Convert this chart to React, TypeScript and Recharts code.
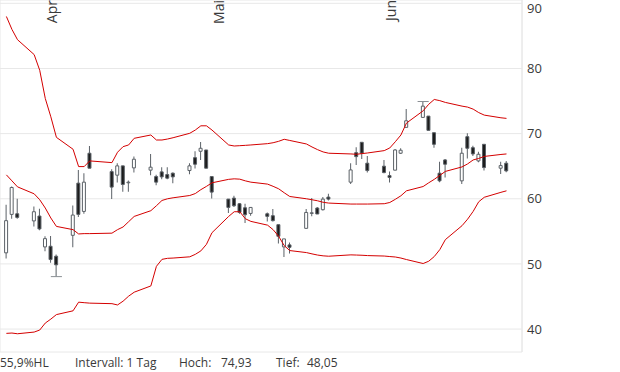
import { ComposedChart, Bar, Line, XAxis, YAxis, CartesianGrid, Cell, ReferenceLine } from "recharts";

// daily candles, 2020 (US session, Good Friday + Memorial Day closed)
const dates = [
  "2020-03-25", "2020-03-26", "2020-03-27", "2020-03-30", "2020-03-31", "2020-04-01", "2020-04-02", "2020-04-03",
  "2020-04-06", "2020-04-07", "2020-04-08", "2020-04-09",
  "2020-04-13", "2020-04-14", "2020-04-15", "2020-04-16", "2020-04-17",
  "2020-04-20", "2020-04-21", "2020-04-22", "2020-04-23", "2020-04-24",
  "2020-04-27", "2020-04-28", "2020-04-29", "2020-04-30", "2020-05-01",
  "2020-05-04", "2020-05-05", "2020-05-06", "2020-05-07", "2020-05-08",
  "2020-05-11", "2020-05-12", "2020-05-13", "2020-05-14", "2020-05-15",
  "2020-05-18", "2020-05-19", "2020-05-20", "2020-05-21", "2020-05-22",
  "2020-05-26", "2020-05-27", "2020-05-28", "2020-05-29",
  "2020-06-01", "2020-06-02", "2020-06-03", "2020-06-04", "2020-06-05",
  "2020-06-08", "2020-06-09", "2020-06-10", "2020-06-11", "2020-06-12",
  "2020-06-15", "2020-06-16", "2020-06-17", "2020-06-18", "2020-06-19",
  "2020-06-22", "2020-06-23",
];

const opens = [
  51.7, 57.6, 57.7, 56.6, 57.35, 52.61, 52.71, 51.18,
  54.39, 62.4, 58.06, 66.99,
  64.17, 63.62, 65.05, 62.45, 64.74,
  64.39, 63.41, 64.13, 63.72, 63.93,
  64.33, 66.31, 67.29, 67.49, 63.41,
  59.95, 60.1, 59.24, 58.62, 57.75,
  57.7, 57.4, 56.02, 52.61, 52.92,
  55.46, 57.75, 58.58, 58.32, 60.26,
  62.55, 67.08, 68.67, 65.46,
  65.0, 63.56, 64.39, 66.99, 70.96,
  72.49, 72.69, 70.14, 63.93, 65.96,
  62.75, 69.53, 67.84, 65.81, 68.36,
  64.69, 65.46,
];

const highs = [
  59.08, 61.88, 60.0, 58.8, 58.47, 54.24, 54.3, 51.44,
  58.98, 64.43, 63.93, 68.1,
  64.54, 65.46, 65.05, 62.8, 66.47,
  66.88, 63.67, 64.85, 64.85, 64.02,
  65.46, 67.3, 68.72, 67.49, 63.41,
  59.95, 60.46, 59.34, 59.24, 58.67,
  57.91, 58.42, 56.02, 53.84, 53.27,
  58.42, 60.1, 58.73, 60.26, 60.76,
  65.46, 67.9, 68.67, 66.57,
  65.96, 64.17, 67.64, 67.75, 73.76,
  74.93, 72.69, 70.14, 65.7, 66.12,
  67.84, 70.05, 68.15, 67.23, 68.36,
  65.7, 65.81,
];

const lows = [
  50.83, 56.94, 56.94, 55.76, 55.15, 51.94, 50.17, 48.05,
  52.55, 57.2, 57.7, 64.69,
  59.95, 62.5, 61.07, 61.07, 64.02,
  63.62, 62.09, 63.01, 63.01, 62.4,
  63.78, 64.64, 65.96, 64.69, 60.05,
  57.81, 58.73, 57.7, 56.28, 57.4,
  56.53, 56.53, 53.12, 51.08, 51.59,
  55.46, 57.3, 57.66, 58.21, 59.74,
  62.25, 65.2, 66.12, 64.02,
  63.93, 62.5, 64.39, 66.88, 70.96,
  72.49, 70.5, 67.84, 62.55, 63.26,
  62.25, 66.2, 66.57, 65.61, 64.33,
  63.82, 64.08,
];

const closes = [
  56.64, 61.73, 57.14, 58.01, 55.37, 53.88, 50.67, 49.86,
  57.5, 57.6, 62.55, 64.69,
  61.79, 65.05, 62.19, 62.55, 66.07,
  64.85, 62.55, 63.36, 63.16, 63.36,
  65.05, 65.3, 67.75, 64.69, 61.02,
  58.67, 58.93, 57.91, 57.55, 58.67,
  57.3, 56.64, 54.24, 53.84, 52.55,
  57.9, 57.85, 57.66, 59.95, 59.95,
  64.43, 66.47, 66.99, 64.33,
  64.02, 63.26, 67.49, 67.45, 71.97,
  74.22, 70.5, 68.36, 62.75, 65.3,
  66.99, 67.75, 66.88, 66.83, 64.79,
  65.09, 64.28,
];

const upperBand = [
  87.98, 86.0, 84.42, 82.13, 79.72, 75.4, 72.58, 69.43,
  67.6, 64.94, 64.94, 65.81,
  65.55, 67.14, 68.0, 68.26, 69.28,
  69.79, 69.02, 69.02, 69.17, 69.37,
  70.05, 70.55, 71.2, 71.2, 70.55,
  68.26, 68.1, 68.15, 68.2, 68.26,
  68.46, 68.6, 68.82, 69.13, 68.95,
  68.41, 67.95, 67.54, 67.19, 66.99,
  66.88, 66.83, 66.93, 67.03,
  67.39, 67.8, 68.76, 69.79, 71.62,
  73.5, 74.5, 75.24, 75.06, 74.79,
  74.22, 74.07, 73.76, 73.23, 72.84,
  72.43, 72.34,
];

const middleBand = [
  63.67, 62.75, 61.83, 60.76, 59.85, 58.58, 57.05, 55.76,
  55.26, 54.6, 54.65, 54.65,
  54.72, 55.26, 55.67, 56.48, 57.29,
  58.17, 58.93, 59.74, 60.0, 60.15,
  60.5, 60.8, 61.4, 61.9, 62.45,
  62.98, 63.06, 63.01, 62.75, 62.55,
  62.25, 61.91, 61.53, 60.92, 60.35,
  60.0, 59.85, 59.69, 59.46, 59.34,
  59.19, 59.19, 59.19, 59.19,
  59.24, 59.43, 59.92, 60.46, 61.22,
  61.88, 62.45, 62.98, 63.59, 64.2,
  64.89, 65.35, 65.96, 66.19, 66.5,
  66.8, 66.88,
];

const lowerBand = [
  39.34, 39.39, 39.28, 39.54, 39.85, 40.92, 41.53, 42.22,
  42.8, 44.13, 44.05, 43.98,
  43.9, 43.7, 44.28, 45.05, 45.66,
  46.62, 49.63, 50.7, 50.86, 50.9,
  51.09, 51.47, 52.0, 53.0, 54.79,
  57.29, 58.01, 58.01, 56.94, 56.53,
  55.95, 55.26, 54.24, 52.81, 52.05,
  51.74, 51.54, 51.36, 51.24, 51.18,
  51.39, 51.36, 51.33, 51.28,
  51.21, 51.13, 51.06, 50.9, 50.67,
  50.06, 50.41, 51.13, 52.2, 53.73,
  55.87, 56.87, 58.06, 59.54, 60.23,
  60.99, 61.22,
];

const monthStarts = ["2020-04-01", "2020-05-01", "2020-06-01"];
const monthLabels = ["Apr", "Mai", "Jun"];
const yTicks = [40, 50, 60, 70, 80, 90];

const DAY = 86400000;
const origin = Date.parse("2020-04-01");
const dayIndex = (d: string) => Math.round((Date.parse(d) - origin) / DAY);

const rows = dates.map((d, i) => ({
  t: dayIndex(d) + 0.5,
  wick: [lows[i], highs[i]],
  body: [Math.min(opens[i], closes[i]), Math.max(opens[i], closes[i])],
  up: closes[i] >= opens[i],
  upper: upperBand[i],
  middle: middleBand[i],
  lower: lowerBand[i],
}));

const monthTicks = monthStarts.map(dayIndex);

const hoch = Math.max(...highs);
const tief = Math.min(...lows);
const hochT = rows[highs.indexOf(hoch)].t;
const tiefT = rows[lows.indexOf(tief)].t;
const fmt = (v: number, n = 2) => v.toFixed(n).replace(".", ",");

const RED = "#d40000";
const CANDLE = "#5b6167";
const GRID = "#e8e8e8";
const TEXT = "#3a3a3a";
const X_DOMAIN: [number, number] = [-7.648, 86.29];

// rotated month name, drawn just right of the month gridline
const MonthLabel = (props: any) => {
  const { viewBox, text } = props;
  const x = viewBox ? viewBox.x : 0;
  return (
    <text
      transform={`translate(${x + 14.5},0) rotate(-90)`}
      textAnchor="end"
      fontSize={14}
      fill={TEXT}
      fontFamily="Open Sans"
    >
      {text}
    </text>
  );
};

export default function App() {
  return (
    <div style={{ position: "relative", width: 620, height: 372, fontFamily: "Open Sans", overflow: "hidden" }}>
      <style>{"body{margin:0}"}</style>
      <ComposedChart
        width={620}
        height={372}
        data={rows}
        margin={{ top: 0, right: 0, bottom: 20, left: 0 }}
      >
        <CartesianGrid xAxisId="main" stroke={GRID} strokeDasharray="" />
        <XAxis
          xAxisId="main"
          dataKey="t"
          type="number"
          domain={X_DOMAIN}
          allowDataOverflow
          ticks={monthTicks}
          tick={false}
          tickLine={false}
          height={0}
          axisLine={{ stroke: GRID }}
        />
        <XAxis
          xAxisId="top"
          orientation="top"
          dataKey="t"
          type="number"
          domain={X_DOMAIN}
          allowDataOverflow
          tick={false}
          tickLine={false}
          axisLine={false}
          height={0}
        />
        <YAxis
          orientation="right"
          width={98}
          domain={[36.48, 90.51]}
          allowDataOverflow
          ticks={yTicks}
          tickLine={false}
          tickSize={0}
          tickMargin={5}
          axisLine={{ stroke: GRID }}
          tick={{ fill: TEXT, fontSize: 13, fontFamily: "Open Sans" }}
        />
        {monthTicks.map((m, i) => (
          <ReferenceLine
            key={m}
            xAxisId="main"
            x={m}
            stroke="none"
            label={<MonthLabel text={monthLabels[i]} />}
          />
        ))}
        <Line xAxisId="main" dataKey="upper" type="linear" stroke={RED} strokeWidth={1} dot={false} activeDot={false} isAnimationActive={false} />
        <Line xAxisId="main" dataKey="middle" type="linear" stroke={RED} strokeWidth={1} dot={false} activeDot={false} isAnimationActive={false} />
        <Line xAxisId="main" dataKey="lower" type="linear" stroke={RED} strokeWidth={1} dot={false} activeDot={false} isAnimationActive={false} />
        <Bar xAxisId="main" dataKey="wick" barSize={1} fill={CANDLE} activeBar={false} isAnimationActive={false} />
        <Bar xAxisId="top" dataKey="body" barSize={3} stroke={CANDLE} strokeWidth={1} activeBar={false} isAnimationActive={false}>
          {rows.map((r, i) => (
            <Cell key={i} fill={r.up ? "#ffffff" : "#1c1c1c"} />
          ))}
        </Bar>
        <ReferenceLine
          xAxisId="main"
          segment={[{ x: hochT - 1, y: hoch }, { x: hochT + 1, y: hoch }]}
          stroke="#8a8f94"
          strokeWidth={1}
        />
        <ReferenceLine
          xAxisId="main"
          segment={[{ x: tiefT - 1, y: tief }, { x: tiefT + 1, y: tief }]}
          stroke="#8a8f94"
          strokeWidth={1}
        />
      </ComposedChart>
      <div style={{ position: "absolute", top: 355, left: 0, right: 0, height: 17, fontSize: 12, lineHeight: "16px", color: TEXT, whiteSpace: "nowrap" }}>
        <span style={{ position: "absolute", left: 0 }}>{fmt(((hoch - tief) / tief) * 100, 1)}%HL</span>
        <span style={{ position: "absolute", left: 75 }}>Intervall: 1 Tag</span>
        <span style={{ position: "absolute", left: 179 }}>Hoch:</span>
        <span style={{ position: "absolute", left: 221 }}>{fmt(hoch)}</span>
        <span style={{ position: "absolute", left: 276 }}>Tief:</span>
        <span style={{ position: "absolute", left: 307 }}>{fmt(tief)}</span>
      </div>
    </div>
  );
}
